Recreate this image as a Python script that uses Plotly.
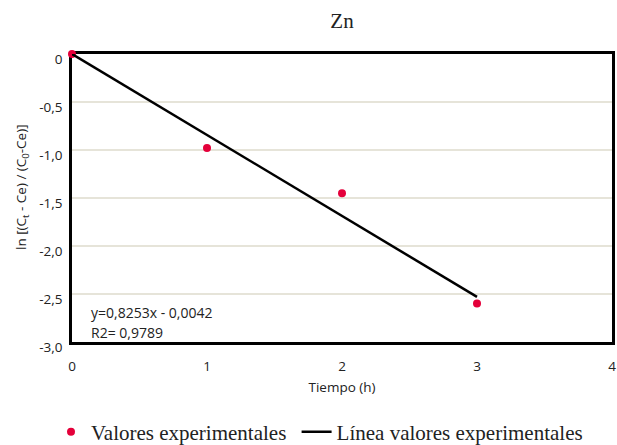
import plotly.graph_objects as go

# Data
tiempo = [0, 1, 2, 3]
valores = [0.0, -0.98, -1.45, -2.60]
linea_x = [0, 3]
linea_y = [0.0, -2.53]
x_ticks = [0, 1, 2, 3, 4]
x_labels = ["0", "1", "2", "3", "4"]
y_ticks = [0, -0.5, -1.0, -1.5, -2.0, -2.5, -3.0]
y_labels = ["0", "-0,5", "-1,0", "-1,5", "-2,0", "-2,5", "-3,0"]
ecuacion = "y=0,8253x - 0,0042"
r2 = "R2= 0,9789"

sans = "Open Sans"
serif = "Liberation Serif"
txt = "#222"

fig = go.Figure()
fig.add_trace(go.Scatter(
    x=tiempo, y=valores, mode="markers", name="Valores experimentales\u00a0",
    marker=dict(color="#e4003a", size=8), cliponaxis=False))
fig.add_trace(go.Scatter(
    x=linea_x, y=linea_y, mode="lines", name="Línea valores experimentales",
    line=dict(color="black", width=2.5), cliponaxis=False))

fig.update_layout(
    width=617, height=445,
    margin=dict(l=72, r=5, t=54, b=103, autoexpand=False),
    paper_bgcolor="white", plot_bgcolor="white",
    title=dict(text="Zn", x=(72 + 612) / 2 / 617, xanchor="center", y=1 - 21 / 445,
               yanchor="middle", font=dict(family=serif, size=21, color=txt)),
    showlegend=True,
    legend=dict(orientation="h", x=(51 - 72) / 540, xanchor="left",
                y=-(432 - 342) / 288, yanchor="middle",
                font=dict(family=serif, size=21, color=txt), tracegroupgap=0),
    xaxis=dict(range=[0, 4], tickvals=x_ticks, ticktext=x_labels,
               showgrid=False, zeroline=False, automargin=False, layer="below traces",
               showline=True, linecolor="black", linewidth=2.5, mirror=True,
               ticks="outside", ticklen=10, tickcolor="rgba(0,0,0,0)",
               tickfont=dict(family=sans, size=13.5, color=txt),
               title=dict(text="Tiempo (h)", font=dict(family=sans, size=13.5, color=txt), standoff=9)),
    yaxis=dict(range=[-3, 0], tickvals=y_ticks, ticktext=y_labels,
               showgrid=True, gridcolor="#e6e4d9", gridwidth=2, zeroline=False,
               automargin=False, layer="below traces",
               showline=True, linecolor="black", linewidth=2.5, mirror=True,
               ticks="outside", ticklen=4, tickcolor="rgba(0,0,0,0)",
               ticklabelshift=5,
               tickfont=dict(family=sans, size=13.5, color=txt)),
)

# y-axis title as a rotated annotation for precise placement
fig.add_annotation(xref="paper", yref="paper", x=(22 - 72) / 540, y=(342 - 187) / 288,
                   xanchor="center", yanchor="middle", showarrow=False, textangle=-90,
                   text="ln [(C<sub>t</sub> - Ce) / (C<sub>0</sub>-Ce)]",
                   font=dict(family=sans, size=13.5, color=txt))

fig.add_annotation(xref="paper", yref="paper", x=(89 - 72) / 540, y=(342 - 312) / 288,
                   xanchor="left", yanchor="middle", showarrow=False, align="left",
                   text=ecuacion, font=dict(family=sans, size=14, color=txt))
fig.add_annotation(xref="paper", yref="paper", x=(89 - 72) / 540, y=(342 - 332) / 288,
                   xanchor="left", yanchor="middle", showarrow=False, align="left",
                   text=r2, font=dict(family=sans, size=14, color=txt))

fig.write_html("out.html", config={"displayModeBar": False},
               post_script="document.body.style.margin='0';")
